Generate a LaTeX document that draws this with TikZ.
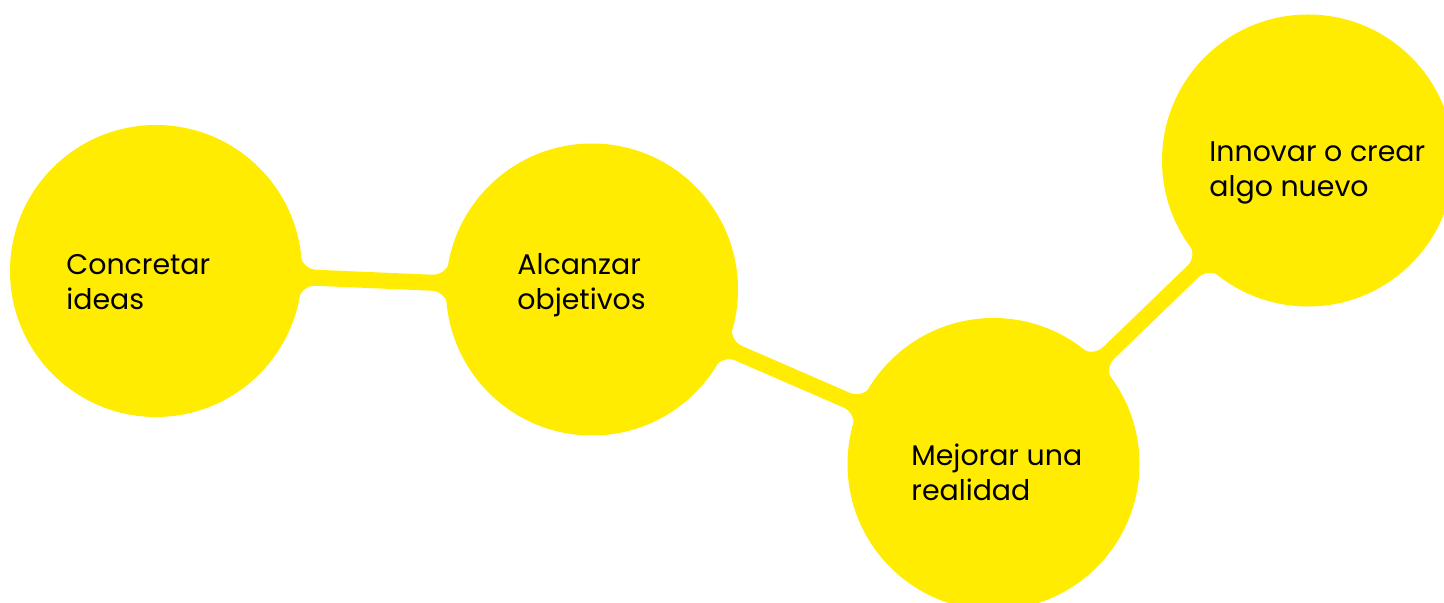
\documentclass[tikz,border=0pt]{standalone}
\usepackage{fontspec}
\setmainfont{Poppins}
\usetikzlibrary{calc}
\definecolor{ideayellow}{RGB}{255,236,0}
\begin{document}
\begin{tikzpicture}
[   x=0.5pt,y=-0.5pt,
    cnode/.style={fill=ideayellow,circle,inner sep=0pt,minimum size=146pt},
    txt/.style={anchor=base west,align=left,inner sep=0pt,text=black,
        font=\fontsize{14.2pt}{17.5pt}\selectfont},
    bar/.style={fill=ideayellow,rounded corners=7pt},
]
    \useasboundingbox (0,0) rectangle (1444,603);
    %
    \node[cnode] (c1) at (156,271) {};
    \node[cnode] (c2) at (592,289.5) {};
    \node[cnode] (c3) at (993.5,464) {};
    \node[cnode] (c4) at (1308,160.5) {};

    % bars with small fillets where they meet the circles
    \foreach \a/\b in {c1/c2,c2/c3,c3/c4}
    {
        \fill[bar] (\a.center)
            -- ($(\a.center)!70.5pt!(\b.center)!19pt!90:(\b.center)$)
            -- ($(\a.center)!72.89pt!(\b.center)!4pt!90:(\b.center)$)
            -- ($(\b.center)!72.89pt!(\a.center)!4pt!-90:(\a.center)$)
            -- ($(\b.center)!70.5pt!(\a.center)!19pt!-90:(\a.center)$)
            -- (\b.center)
            -- ($(\b.center)!70.5pt!(\a.center)!19pt!90:(\a.center)$)
            -- ($(\b.center)!72.89pt!(\a.center)!4pt!90:(\a.center)$)
            -- ($(\a.center)!72.89pt!(\b.center)!4pt!-90:(\b.center)$)
            -- ($(\a.center)!70.5pt!(\b.center)!19pt!-90:(\b.center)$)
            -- cycle;
    }

    % base anchor sits on the last line
    \node[txt] (t1) at (66,310) {Concretar\\ideas};
    \node[txt] (t2) at (517,310) {Alcanzar\\objetivos};
    \node[txt] (t3) at (911,501) {Mejorar una\\realidad};
    \node[txt] (t4) at (1209,197) {Innovar o crear\\algo nuevo};
\end{tikzpicture}
\end{document}
